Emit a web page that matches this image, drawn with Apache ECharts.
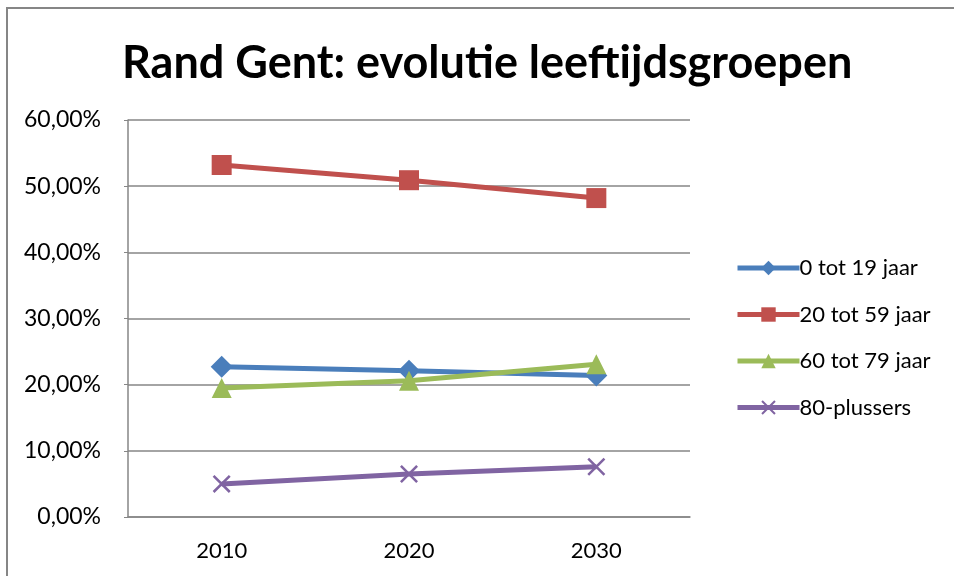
<!DOCTYPE html>
<html>
<head>
<meta charset="utf-8">
<script src="https://cdn.jsdelivr.net/npm/echarts@6/dist/echarts.min.js"></script>
<style>
  html, body { margin: 0; padding: 0; background: #fff; }
  #chart { width: 954px; height: 576px; }
</style>
</head>
<body>
<div id="chart"></div>
<script>
// jaartallen en aandelen per leeftijdsgroep (in %)
var years = ['2010', '2020', '2030']
var age0to19 = [22.7, 22.1, 21.4]
var age20to59 = [53.2, 50.9, 48.2]
var age60to79 = [19.5, 20.6, 23.1]
var age80plus = [5.0, 6.5, 7.6]
var seriesNames = ['0 tot 19 jaar', '20 tot 59 jaar', '60 tot 79 jaar', '80-plussers']

var fontFam = 'Lato, "Open Sans", sans-serif'
var crossPath = 'path://M0,1 L1,0 L10,9 L9,10 Z M9,0 L10,1 L1,10 L0,9 Z'

function lineSeries(name, data, color, symbol, size) {
  return {
    name: name,
    type: 'line',
    data: data,
    symbol: symbol,
    symbolSize: size,
    lineStyle: { color: color, width: 5 },
    itemStyle: { color: color },
    emphasis: { disabled: true }
  }
}

var chart = echarts.init(document.getElementById('chart'))
chart.setOption({
  animation: false,
  title: {
    text: 'Rand Gent: evolutie leeftijdsgroepen',
    left: 122,
    top: 41,
    padding: 0,
    textStyle: { fontFamily: fontFam, fontWeight: 'bold', fontSize: 45, color: '#000' }
  },
  graphic: [{
    type: 'rect',
    shape: { x: 7, y: 8, width: 1000, height: 1000 },
    style: { fill: 'none', stroke: '#868686', lineWidth: 2 },
    silent: true
  }],
  legend: {
    orient: 'vertical',
    left: 730,
    top: 252,
    itemWidth: 62,
    itemHeight: 18,
    itemGap: 24.5,
    lineStyle: { width: 5 },
    textStyle: { fontFamily: fontFam, fontSize: 22, color: '#000', padding: [0, 0, 0, -5] },
    data: seriesNames
  },
  grid: { left: 128, right: 264, top: 120, bottom: 59 },
  xAxis: {
    type: 'category',
    data: years,
    boundaryGap: true,
    axisLine: { lineStyle: { color: '#868686', width: 1.5 } },
    axisTick: { show: false },
    axisLabel: { fontFamily: fontFam, fontSize: 22, color: '#000', margin: 23 }
  },
  yAxis: {
    type: 'value',
    min: 0,
    max: 60,
    interval: 10,
    axisLine: { show: true, lineStyle: { color: '#868686', width: 1.5 } },
    axisTick: { show: true, length: 4, lineStyle: { color: '#868686' } },
    splitLine: { lineStyle: { color: '#868686', width: 1.5 } },
    axisLabel: {
      fontFamily: fontFam, fontSize: 23, color: '#000', margin: 27,
      formatter: function (v) { return v.toFixed(2).replace('.', ',') + '%' }
    }
  },
  series: [
    lineSeries(seriesNames[0], age0to19, '#4A7EBB', 'diamond', 22),
    lineSeries(seriesNames[1], age20to59, '#C0504D', 'rect', 20),
    lineSeries(seriesNames[2], age60to79, '#9BBB59', 'triangle', 20),
    lineSeries(seriesNames[3], age80plus, '#8064A2', crossPath, 18)
  ]
})
</script>
</body>
</html>
